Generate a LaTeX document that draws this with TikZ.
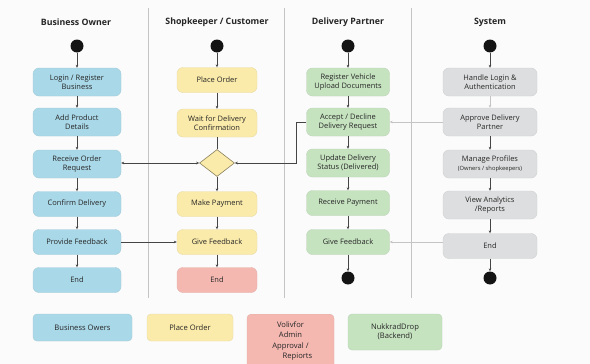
\documentclass[tikz,border=0pt]{standalone}
\usepackage{fontspec}
\setmainfont{Open Sans}
\usetikzlibrary{arrows.meta,shapes.geometric}
\definecolor{bblue}{HTML}{A9D8E8}
\definecolor{byellow}{HTML}{FBEBAA}
\definecolor{bgreen}{HTML}{C6E3C0}
\definecolor{bgray}{HTML}{DDDEDF}
\definecolor{bpink}{HTML}{F4B8B1}
\definecolor{lnc}{HTML}{454545}
\definecolor{lanec}{HTML}{C4C4C4}
\tikzset{
  box/.style={rounded corners=6pt, align=center, inner sep=1pt, font=\fontsize{7.5}{8.6}\selectfont, text=black!85, line width=0.4pt},
  bo/.style={box, fill=bblue, draw=bblue!85!gray, minimum width=88pt},
  sc/.style={box, fill=byellow, draw=byellow!85!gray, minimum width=80pt},
  dp/.style={box, fill=bgreen, draw=bgreen!85!gray, minimum width=83pt},
  sy/.style={box, fill=bgray, draw=bgray!85!gray, minimum width=94pt},
  two/.style={minimum height=28pt},
  one/.style={minimum height=25pt},
  startdot/.style={circle, fill=black!92, minimum size=13pt, inner sep=0pt},
  arr/.style={-{Stealth[length=3pt,width=2.6pt]}, draw=lnc, line width=0.7pt},
  plain/.style={draw=lnc, line width=0.7pt},
  larr/.style={-{Stealth[length=3pt,width=2.6pt]}, draw=lanec, line width=0.7pt},
  lanehead/.style={font=\fontsize{8.8}{10}\selectfont\bfseries, text=black!85},
  legend/.style={rounded corners=4pt, align=center, font=\fontsize{7.6}{9}\selectfont, text=black!85, line width=0.4pt, inner sep=1pt}
}
\begin{document}
\begin{tikzpicture}[x=1pt,y=-1pt]
\fill[white!97!gray] (0,0) rectangle (590,364);
\useasboundingbox (0,0) rectangle (590,364);
\clip (0,0) rectangle (590,364);
% lane separators
\draw[lanec, line width=0.6pt] (148,8) -- (148,298);
\draw[lanec, line width=0.6pt] (284,8) -- (284,298);
\draw[lanec, line width=0.6pt] (411,8) -- (411,298);
% headers
\node[lanehead] (h1) at (76,22) {Business Owner};
\node[lanehead] (h2) at (217,22) {Shopkeeper / Customer};
\node[lanehead] (h3) at (348,22) {Delivery Partner};
\node[lanehead] (h4) at (490,22) {System};
% lane 1
\node[startdot] (s1) at (77,46) {};
\node[bo,two] (b1) at (77,82) {Login / Register\\Business};
\node[bo,two] (b2) at (77,122) {Add Product\\Details};
\node[bo,two] (b3) at (77,164) {Receive Order\\Request};
\node[bo,one] (b4) at (77,204) {Confirm Delivery};
\node[bo,one] (b5) at (77,242) {Provide Feedback};
\node[bo,one] (b6) at (77,280) {End};
% lane 2
\node[startdot] (s2) at (217,46) {};
\node[sc,one] (c1) at (217,80) {Place Order};
\node[sc,two] (c2) at (217,123) {Wait for Delivery\\Confirmation};
\node[diamond, fill=byellow, draw=byellow!55!black, line width=0.6pt, minimum width=35pt, minimum height=27pt, inner sep=0pt] (d) at (217,163) {};
\node[sc,one] (c3) at (217,204) {Make Payment};
\node[sc,one] (c4) at (217,242) {Give Feedback};
\node[box,one,fill=bpink,draw=bpink!85!gray,minimum width=80pt] (c5) at (217,280) {End};
% lane 3
\node[startdot] (s3) at (348,46) {};
\node[dp,two] (p1) at (348,82) {Register Vehicle\\Upload Documents};
\node[dp,two] (p2) at (348,122) {Accept / Decline\\Delivery Request};
\node[dp,two] (p3) at (348,163) {Update Delivery\\Status (Delivered)};
\node[dp,one] (p4) at (348,203) {Receive Payment};
\node[dp,one] (p5) at (348,242) {Give Feedback};
\node[startdot] (e3) at (348,278) {};
% lane 4
\node[startdot] (s4) at (490,46) {};
\node[sy,two] (q1) at (490,82) {Handle Login \&\\Authentication};
\node[sy,two] (q2) at (490,122) {Approve Delivery\\Partner};
\node[sy,two] (q3) at (490,164) {Manage Profiles\\{\fontsize{5.8}{7}\selectfont (Owners / shopkeepers)}};
\node[sy,two] (q4) at (490,205) {View Analytics\\/Reports};
\node[sy,one] (q5) at (490,246) {End};
\node[startdot] (e4) at (490,278) {};
% lane 1 flow
\draw[arr] (s1) -- (b1);
\draw[arr] (b1) -- (b2);
\draw[arr] (b2) -- (b3);
\draw[arr] (b3) -- (b4);
\draw[arr] (b4) -- (b5);
\draw[arr] (b5) -- (b6);
% lane 2 flow
\draw[arr] (s2) -- (c1);
\draw[arr] (c1) -- (c2);
\draw[plain] (c2) -- (d);
\draw[arr] (d) -- (c3);
\draw[arr] (c3) -- (c4);
\draw[arr] (c4) -- (c5);
% lane 3 flow
\draw[arr] (s3) -- (p1);
\draw[arr] (p1) -- (p2);
\draw[arr] (p2) -- (p3);
\draw[arr] (p3) -- (p4);
\draw[arr] (p4) -- (p5);
\draw[arr] (p5) -- (e3);
% lane 4 flow
\draw[arr] (s4) -- (q1);
\draw[larr] (q1) -- (q2);
\draw[arr] (q2) -- (q3);
\draw[arr] (q3) -- (q4);
\draw[arr] (q4) -- (q5);
\draw[arr] (q5) -- (e4);
% cross-lane
\draw[{Stealth[length=3pt,width=2.6pt]}-{Stealth[length=3pt,width=2.6pt]}, draw=lnc, line width=0.7pt] (b3.east |- d.west) -- (d.west);
\coordinate (k) at ([xshift=-10pt]p2.west);
\draw[arr] (p2.west) -- (k) |- (d.east);
\draw[larr] (q2.west) -- (p2.east);
\draw[arr] (b5.east) -- (c4.west);
\draw[larr] (q5.west |- p5.east) -- (p5.east);
% legend
\node[legend, fill=bblue, draw=bblue!85!gray, minimum width=99pt, minimum height=27pt] (l1) at (82.5,327.5) {Business Owers};
\node[legend, fill=byellow, draw=byellow!85!gray, minimum width=86pt, minimum height=27pt] (l2) at (190,327.5) {Place Order};
\node[legend, fill=bpink, draw=bpink!85!gray, minimum width=87pt, minimum height=56pt, anchor=north] (l3) at (290.5,314) {};
\node[align=center, font=\fontsize{7.6}{10.5}\selectfont, text=black!85, anchor=north] (l3t) at (290.5,318) {Volivfor\\Admin\\Approval /\\\hspace*{14pt}Repiorts};
\node[legend, fill=bgreen, draw=bgreen!85!gray, minimum width=94pt, minimum height=36pt] (l4) at (395,332) {NukkradDrop\\(Backend)};
\end{tikzpicture}
\end{document}
